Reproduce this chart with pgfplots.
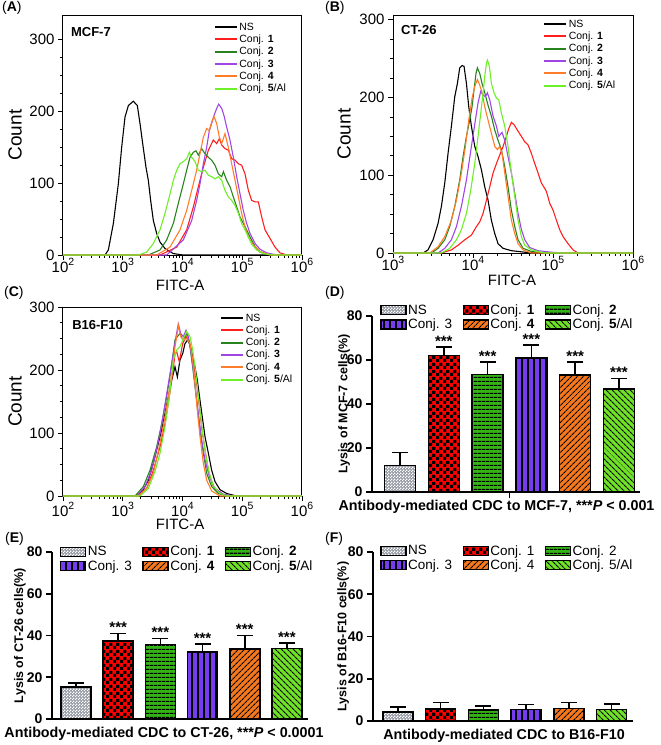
\documentclass[border=0pt]{standalone}
\usepackage{pgfplots}
\pgfplotsset{compat=1.18}
\usepackage{fontspec}
\setmainfont{Liberation Sans}
\usetikzlibrary{patterns,patterns.meta}

\definecolor{hblack}{RGB}{0,0,0}
\definecolor{hred}{RGB}{255,30,30}
\definecolor{hdgreen}{RGB}{40,130,30}
\definecolor{hpurple}{RGB}{160,70,230}
\definecolor{horange}{RGB}{255,125,40}
\definecolor{hlgreen}{RGB}{110,240,40}

\definecolor{bgray}{RGB}{150,155,165}
\definecolor{bred}{RGB}{255,0,0}
\definecolor{bgreen}{RGB}{50,180,20}
\definecolor{bpurple}{RGB}{120,60,240}
\definecolor{borange}{RGB}{245,120,30}
\definecolor{blgreen}{RGB}{110,225,40}

\pgfdeclarepatternformonly{bigcheck}{\pgfpointorigin}{\pgfqpoint{6.6pt}{6.6pt}}{\pgfqpoint{6.6pt}{6.6pt}}{%
 \pgfpathrectangle{\pgfpointorigin}{\pgfqpoint{3.3pt}{3.3pt}}%
 \pgfpathrectangle{\pgfqpoint{3.3pt}{3.3pt}}{\pgfqpoint{3.3pt}{3.3pt}}%
 \pgfusepath{fill}}
\pgfdeclarepatternformonly{smallcheck}{\pgfpointorigin}{\pgfqpoint{3pt}{3pt}}{\pgfqpoint{3pt}{3pt}}{%
 \pgfpathrectangle{\pgfpointorigin}{\pgfqpoint{1.5pt}{1.5pt}}%
 \pgfpathrectangle{\pgfqpoint{1.5pt}{1.5pt}}{\pgfqpoint{1.5pt}{1.5pt}}%
 \pgfusepath{fill}}

\newcommand{\fs}[1]{\fontsize{#1}{#1}\selectfont}
\newcommand{\tp}[1]{10\raisebox{6.5pt}{\fontsize{10.5}{10.5}\selectfont #1}}

\pgfplotsset{
  hist/.style={
    scale only axis, ymin=0, clip=true,
    axis line style={line width=1pt},
    tick align=outside, xtick pos=bottom, ytick pos=left,
    major tick length=5pt, minor tick length=3pt,
    tick style={black, line width=0.9pt},
    minor tick style={black, line width=0.7pt},
    minor y tick num=3,
    ytick={0,100,200,300},
    xtick={2,3,4,5,6},
    xticklabels={{\tp{2}},{\tp{3}},{\tp{4}},{\tp{5}},{\tp{6}}},
    tick label style={font=\fs{15}},
    xticklabel style={anchor=base, yshift=-12pt},
    /pgf/number format/assume math mode=true,
    ylabel={Count}, xlabel={FITC-A},
    ylabel style={font=\fs{19}, at={(axis description cs:-0.2,0.5)}, anchor=center},
    xlabel style={font=\fs{15}, anchor=center, inner sep=0pt},
    legend cell align=left,
    legend style={draw=none, fill=none, font=\fs{10.5}, inner sep=0pt, nodes={inner sep=1.6pt}},
    legend image code/.code={\draw[##1, line width=2pt] (0pt,0pt) -- (22pt,0pt);},
    every axis plot/.append style={line width=1.1pt, mark=none, sharp plot},
  },
  bars/.style={
    scale only axis, ymin=0, ymax=80, ytick={0,20,40,60,80},
    axis x line*=bottom, axis y line*=left,
    axis line style={-, line width=1.6pt},
    tick align=outside, major tick length=6pt,
    tick style={black, line width=1.6pt},
    xtick=\empty,
    tick label style={font=\bfseries\fs{14}},
    /pgf/number format/assume math mode=true,
    ylabel style={font=\bfseries\fs{12.5}, anchor=center},
    xlabel style={font=\bfseries\fs{14.3}, anchor=center},
    legend columns=3, legend cell align=left,
    legend style={draw=none, fill=none, font=\fs{13.5}, inner sep=0pt, nodes={inner sep=1.5pt},
       /tikz/every even column/.append style={column sep=9pt}},
    legend image code/.code={\draw[##1, line width=1.3pt] (0pt,-4.5pt) rectangle (25pt,4.5pt);},
    clip=false,
  },
  barplot/.style={ybar, bar width=31pt, bar shift=0pt, draw=black, line width=1.6pt,
     error bars/y dir=plus, error bars/y explicit,
     error bars/error bar style={line width=1.6pt, black},
     error bars/error mark options={rotate=90, mark size=8pt, line width=1.6pt, black}},
  pNS/.style={fill=bgray, postaction={pattern=smallcheck, pattern color=white}},
  pC1/.style={fill=bred, postaction={pattern=bigcheck, pattern color=black}},
  pC2/.style={fill=bgreen, postaction={pattern={Lines[angle=0,distance=4pt,line width=1.2pt]}, pattern color=black}},
  pC3/.style={fill=bpurple, postaction={pattern={Lines[angle=90,distance=6pt,line width=1.3pt]}, pattern color=black}},
  pC4/.style={fill=borange, postaction={pattern={Lines[angle=45,distance=4pt,line width=1.1pt]}, pattern color=black}},
  pC5/.style={fill=blgreen, postaction={pattern={Lines[angle=-45,distance=4pt,line width=1.1pt]}, pattern color=black}},
}

\begin{document}
\begin{tikzpicture}[x=1pt,y=1pt]
\useasboundingbox (0,0) rectangle (661,-745);

% ---------------- (A) ----------------
\begin{axis}[hist, at={(63pt,-255pt)}, anchor=south west, width=239pt, height=240pt,
  xmin=2, xmax=6, ymax=334,
  minor xtick={2.301,2.477,2.602,2.699,2.778,2.845,2.903,2.954,3.301,3.477,3.602,3.699,3.778,3.845,3.903,3.954,4.301,4.477,4.602,4.699,4.778,4.845,4.903,4.954,5.301,5.477,5.602,5.699,5.778,5.845,5.903,5.954},
  xlabel style={at={(axis description cs:0.49,-0.125)}},
  legend style={at={(0.63,0.975)}, anchor=north west}]
\addplot[hblack] coordinates {(2,0) (2.703,0) (2.759,7) (2.843,44) (2.926,99) (2.982,150) (3.038,192) (3.094,208) (3.177,214) (3.244,208) (3.289,183) (3.334,155) (3.389,122) (3.428,104) (3.467,76) (3.512,48) (3.568,30) (3.624,18) (3.707,9) (3.847,2) (4.014,0) (6,0)};
\addlegendentry{NS}
\addplot[hred] coordinates {(2,0) (3.624,0) (3.903,11) (4.070,35) (4.182,67) (4.265,95) (4.349,122) (4.433,146) (4.516,160) (4.572,155) (4.617,162) (4.656,153) (4.711,148) (4.767,146) (4.823,134) (4.879,132) (4.935,127) (4.990,125) (5.046,113) (5.102,90) (5.158,76) (5.214,74) (5.269,74) (5.325,53) (5.381,35) (5.465,23) (5.548,11) (5.632,3) (5.744,0) (6,0)};
\addlegendentry{Conj. \textbf{1}}
\addplot[hdgreen] coordinates {(2,0) (3.428,0) (3.624,7) (3.735,21) (3.847,44) (3.930,72) (4.014,99) (4.070,118) (4.126,136) (4.182,143) (4.226,145) (4.265,139) (4.321,148) (4.377,141) (4.433,136) (4.488,132) (4.544,125) (4.600,113) (4.656,109) (4.684,116) (4.739,104) (4.795,95) (4.851,81) (4.907,67) (4.963,53) (5.018,44) (5.074,35) (5.130,25) (5.214,12) (5.297,4) (5.465,0) (6,0)};
\addlegendentry{Conj. \textbf{2}}
\addplot[hpurple] coordinates {(2,0) (3.735,0) (4.014,21) (4.154,48) (4.237,76) (4.293,99) (4.349,127) (4.405,150) (4.449,173) (4.488,183) (4.527,194) (4.572,204) (4.606,210) (4.656,204) (4.695,194) (4.739,178) (4.795,160) (4.851,136) (4.907,109) (4.963,85) (5.018,62) (5.074,44) (5.130,30) (5.214,16) (5.297,8) (5.409,3) (5.576,0) (6,0)};
\addlegendentry{Conj. \textbf{3}}
\addplot[horange] coordinates {(2,0) (3.568,0) (3.791,11) (3.958,35) (4.070,62) (4.154,90) (4.237,118) (4.293,141) (4.349,164) (4.405,176) (4.449,173) (4.488,185) (4.527,193) (4.572,183) (4.617,164) (4.656,155) (4.711,169) (4.767,150) (4.823,127) (4.879,104) (4.935,81) (4.990,58) (5.046,39) (5.102,25) (5.186,14) (5.297,5) (5.465,0) (6,0)};
\addlegendentry{Conj. \textbf{4}}
\addplot[hlgreen] coordinates {(2,0) (3.261,0) (3.400,4) (3.512,16) (3.624,35) (3.707,58) (3.791,85) (3.847,104) (3.903,118) (3.958,127) (4.014,130) (4.070,134) (4.115,143) (4.154,136) (4.209,130) (4.265,118) (4.321,116) (4.377,118) (4.433,111) (4.488,109) (4.544,106) (4.600,109) (4.656,104) (4.711,90) (4.767,81) (4.823,76) (4.879,69) (4.935,58) (4.990,44) (5.046,35) (5.102,25) (5.158,15) (5.241,7) (5.353,2) (5.520,0) (6,0)};
\addlegendentry{Conj. \textbf{5}/Al}
\node[anchor=west, font=\bfseries\fs{13}, inner sep=0pt] at (rel axis cs:0.033,0.929) {MCF-7};
\end{axis}

% ---------------- (B) ----------------
\begin{axis}[hist, at={(393pt,-253pt)}, anchor=south west, width=240pt, height=238pt,
  xmin=3, xmax=6, ymax=306,
  xtick={3,4,5,6},
  xticklabels={{\tp{3}},{\tp{4}},{\tp{5}},{\tp{6}}},
  minor xtick={3.301,3.477,3.602,3.699,3.778,3.845,3.903,3.954,4.301,4.477,4.602,4.699,4.778,4.845,4.903,4.954,5.301,5.477,5.602,5.699,5.778,5.845,5.903,5.954},
  ylabel style={at={(axis description cs:-0.204,0.5)}},
  xlabel style={at={(axis description cs:0.496,-0.113)}},
  legend style={at={(0.625,0.987)}, anchor=north west}]
\addplot[hblack] coordinates {(3,0) (3.376,0) (3.438,4) (3.501,17) (3.563,38) (3.605,60) (3.647,90) (3.688,128) (3.730,163) (3.772,201) (3.805,218) (3.834,238) (3.863,241) (3.888,240) (3.918,218) (3.947,188) (3.980,163) (4.022,137) (4.063,124) (4.105,107) (4.147,85) (4.188,68) (4.230,42) (4.272,25) (4.313,12) (4.376,6) (4.480,3) (4.647,1) (4.855,0) (6,0)};
\addlegendentry{NS}
\addplot[hred] coordinates {(3,0) (3.605,0) (3.730,4) (3.813,10) (3.897,17) (3.980,23) (4.043,34) (4.084,40) (4.126,51) (4.168,68) (4.209,85) (4.251,103) (4.293,115) (4.334,126) (4.376,137) (4.418,150) (4.447,160) (4.480,168) (4.513,165) (4.555,158) (4.605,150) (4.647,143) (4.688,139) (4.730,128) (4.772,115) (4.813,103) (4.855,90) (4.897,83) (4.918,79) (4.959,64) (5.001,55) (5.043,42) (5.084,30) (5.126,21) (5.188,12) (5.251,4) (5.313,0) (6,0)};
\addlegendentry{Conj. \textbf{1}}
\addplot[hdgreen] coordinates {(3,0) (3.480,0) (3.563,6) (3.647,17) (3.709,34) (3.772,60) (3.834,94) (3.876,124) (3.918,150) (3.959,171) (3.988,188) (4.013,210) (4.038,231) (4.055,238) (4.084,231) (4.113,218) (4.147,206) (4.188,190) (4.230,176) (4.272,158) (4.313,145) (4.355,133) (4.397,111) (4.438,85) (4.480,55) (4.522,34) (4.563,17) (4.626,6) (4.730,2) (4.897,0) (6,0)};
\addlegendentry{Conj. \textbf{2}}
\addplot[hpurple] coordinates {(3,0) (3.563,0) (3.647,6) (3.730,17) (3.793,34) (3.855,60) (3.918,94) (3.980,137) (4.030,171) (4.063,193) (4.097,208) (4.126,203) (4.155,201) (4.180,206) (4.209,197) (4.251,176) (4.293,163) (4.322,150) (4.363,155) (4.397,145) (4.438,124) (4.480,103) (4.522,77) (4.563,51) (4.605,30) (4.647,17) (4.709,7) (4.813,3) (4.980,1) (5.147,0) (6,0)};
\addlegendentry{Conj. \textbf{3}}
\addplot[horange] coordinates {(3,0) (3.459,0) (3.563,8) (3.647,21) (3.730,42) (3.793,68) (3.855,103) (3.905,137) (3.947,171) (3.988,199) (4.022,214) (4.055,223) (4.084,216) (4.113,206) (4.147,188) (4.188,171) (4.230,154) (4.272,137) (4.305,133) (4.334,137) (4.363,128) (4.397,103) (4.438,73) (4.480,42) (4.522,25) (4.563,12) (4.626,4) (4.730,0) (6,0)};
\addlegendentry{Conj. \textbf{4}}
\addplot[hlgreen] coordinates {(3,0) (3.605,0) (3.709,6) (3.793,17) (3.855,30) (3.918,51) (3.972,81) (4.022,115) (4.063,150) (4.097,180) (4.126,206) (4.147,227) (4.168,244) (4.180,248) (4.205,240) (4.230,218) (4.263,206) (4.293,199) (4.322,197) (4.355,180) (4.397,163) (4.438,137) (4.480,103) (4.522,73) (4.563,42) (4.605,21) (4.647,10) (4.730,4) (4.897,0) (6,0)};
\addlegendentry{Conj. \textbf{5}/Al}
\node[anchor=west, font=\bfseries\fs{13}, inner sep=0pt] at (rel axis cs:0.033,0.937) {CT-26};
\end{axis}

% ---------------- (C) ----------------
\begin{axis}[hist, at={(63pt,-496pt)}, anchor=south west, width=239pt, height=189pt,
  xmin=2, xmax=6, ymax=300,
  xticklabel style={anchor=base, yshift=-3pt},
  minor xtick={2.301,2.477,2.602,2.699,2.778,2.845,2.903,2.954,3.301,3.477,3.602,3.699,3.778,3.845,3.903,3.954,4.301,4.477,4.602,4.699,4.778,4.845,4.903,4.954,5.301,5.477,5.602,5.699,5.778,5.845,5.903,5.954},
  xlabel style={at={(axis description cs:0.49,-0.152)}},
  legend style={at={(0.657,0.974)}, anchor=north west}]
\addplot[hblack] coordinates {(2,0) (3.233,0) (3.345,10) (3.428,25) (3.512,52) (3.596,84) (3.652,105) (3.707,131) (3.763,158) (3.819,184) (3.875,205) (3.914,189) (3.958,216) (4.003,226) (4.042,242) (4.087,248) (4.126,240) (4.170,221) (4.209,205) (4.248,184) (4.293,152) (4.338,121) (4.377,94) (4.433,68) (4.488,41) (4.544,23) (4.628,10) (4.739,4) (4.907,0) (6,0)};
\addlegendentry{NS}
\addplot[hred] coordinates {(2,0) (3.261,0) (3.400,12) (3.512,41) (3.624,78) (3.707,115) (3.780,158) (3.836,195) (3.875,226) (3.903,229) (3.947,213) (4.003,242) (4.059,253) (4.115,245) (4.154,226) (4.193,205) (4.237,179) (4.282,142) (4.327,105) (4.377,73) (4.433,41) (4.505,17) (4.600,5) (4.739,0) (6,0)};
\addlegendentry{Conj. \textbf{1}}
\addplot[hdgreen] coordinates {(2,0) (3.205,0) (3.345,15) (3.456,41) (3.568,78) (3.652,115) (3.724,152) (3.780,184) (3.836,221) (3.875,248) (3.914,253) (3.958,258) (4.003,248) (4.042,253) (4.081,258) (4.126,237) (4.170,205) (4.209,174) (4.248,142) (4.293,105) (4.349,68) (4.405,36) (4.488,15) (4.600,4) (4.739,0) (6,0)};
\addlegendentry{Conj. \textbf{2}}
\addplot[hpurple] coordinates {(2,0) (3.233,0) (3.373,15) (3.484,41) (3.557,70) (3.624,99) (3.691,136) (3.746,168) (3.802,200) (3.847,226) (3.891,253) (3.930,273) (3.970,258) (4.014,253) (4.059,263) (4.098,253) (4.137,232) (4.182,200) (4.226,163) (4.265,131) (4.321,89) (4.377,57) (4.449,31) (4.544,12) (4.684,3) (4.851,0) (6,0)};
\addlegendentry{Conj. \textbf{3}}
\addplot[horange] coordinates {(2,0) (3.261,0) (3.400,12) (3.512,36) (3.624,84) (3.707,126) (3.780,168) (3.836,205) (3.875,237) (3.903,253) (3.930,271) (3.970,253) (4.014,248) (4.070,250) (4.126,242) (4.170,216) (4.209,179) (4.248,136) (4.293,94) (4.349,52) (4.405,25) (4.488,8) (4.628,0) (6,0)};
\addlegendentry{Conj. \textbf{4}}
\addplot[hlgreen] coordinates {(2,0) (3.289,0) (3.428,12) (3.540,39) (3.624,68) (3.707,110) (3.780,158) (3.847,216) (3.903,232) (3.958,237) (4.014,250) (4.070,261) (4.126,253) (4.170,232) (4.209,205) (4.248,174) (4.293,136) (4.338,99) (4.394,62) (4.449,36) (4.516,16) (4.617,5) (4.739,0) (6,0)};
\addlegendentry{Conj. \textbf{5}/Al}
\node[anchor=west, font=\bfseries\fs{13}, inner sep=0pt] at (rel axis cs:0.038,0.905) {B16-F10};
\end{axis}

% ---------------- (D) ----------------
\begin{axis}[bars, at={(372pt,-492pt)}, anchor=south west, width=268pt, height=176pt,
  xmin=-0.64, xmax=5.48, xtick={2.5}, xticklabels={},
  ylabel={Lysis of MCF-7 cells(\%)},
  ylabel style={at={(axis description cs:-0.104,0.5)}},
  xlabel={Antibody-mediated CDC to MCF-7, ***\textit{P} < 0.001},
  xlabel style={at={(axis description cs:0.4646,-0.085)}},
  legend style={at={(0.03,1.075)}, anchor=north west}]
\addplot[barplot, pNS] coordinates {(0,12.0) +- (0,6.0)};
\addlegendentry{NS}
\addplot[barplot, pC1] coordinates {(1,62.0) +- (0,4.0)};
\addlegendentry{Conj. \textbf{1}}
\addplot[barplot, pC2] coordinates {(2,53.5) +- (0,5.5)};
\addlegendentry{Conj. \textbf{2}}
\addplot[barplot, pC3] coordinates {(3,61.0) +- (0,5.8)};
\addlegendentry{Conj. 3}
\addplot[barplot, pC4] coordinates {(4,53.2) +- (0,6.0)};
\addlegendentry{Conj. \textbf{4}}
\addplot[barplot, pC5] coordinates {(5,46.8) +- (0,4.8)};
\addlegendentry{Conj. \textbf{5}/Al}
\node[anchor=south, font=\bfseries\fs{15}, inner sep=0.5pt] at (axis cs:1,66.0) {***};
\node[anchor=south, font=\bfseries\fs{15}, inner sep=0.5pt] at (axis cs:2,59.0) {***};
\node[anchor=south, font=\bfseries\fs{15}, inner sep=0.5pt] at (axis cs:3,66.8) {***};
\node[anchor=south, font=\bfseries\fs{15}, inner sep=0.5pt] at (axis cs:4,59.2) {***};
\node[anchor=south, font=\bfseries\fs{15}, inner sep=0.5pt] at (axis cs:5,51.6) {***};
\end{axis}

% ---------------- (E) ----------------
\begin{axis}[bars, at={(52pt,-719pt)}, anchor=south west, width=256pt, height=167pt,
  xmin=-0.57, xmax=5.5,
  ylabel={Lysis of CT-26 cells(\%)},
  ylabel style={at={(axis description cs:-0.125,0.5)}},
  xlabel={Antibody-mediated CDC to CT-26, ***\textit{P} < 0.0001},
  xlabel style={at={(axis description cs:0.4375,-0.09)}},
  legend style={at={(0.031,1.045)}, anchor=north west}]
\addplot[barplot, bar width=30pt, pNS] coordinates {(0,15.3) +- (0,2.0)};
\addlegendentry{NS}
\addplot[barplot, bar width=30pt, pC1] coordinates {(1,37.5) +- (0,3.4)};
\addlegendentry{Conj. \textbf{1}}
\addplot[barplot, bar width=30pt, pC2] coordinates {(2,35.6) +- (0,3.0)};
\addlegendentry{Conj. \textbf{2}}
\addplot[barplot, bar width=30pt, pC3] coordinates {(3,32.1) +- (0,3.9)};
\addlegendentry{Conj. 3}
\addplot[barplot, bar width=30pt, pC4] coordinates {(4,33.5) +- (0,6.6)};
\addlegendentry{Conj. \textbf{4}}
\addplot[barplot, bar width=30pt, pC5] coordinates {(5,33.7) +- (0,2.7)};
\addlegendentry{Conj. \textbf{5}/Al}
\node[anchor=south, font=\bfseries\fs{15}, inner sep=0.5pt] at (axis cs:1,40.9) {***};
\node[anchor=south, font=\bfseries\fs{15}, inner sep=0.5pt] at (axis cs:2,38.6) {***};
\node[anchor=south, font=\bfseries\fs{15}, inner sep=0.5pt] at (axis cs:3,36.0) {***};
\node[anchor=south, font=\bfseries\fs{15}, inner sep=0.5pt] at (axis cs:4,40.1) {***};
\node[anchor=south, font=\bfseries\fs{15}, inner sep=0.5pt] at (axis cs:5,36.4) {***};
\end{axis}

% ---------------- (F) ----------------
\begin{axis}[bars, at={(373pt,-721pt)}, anchor=south west, width=260pt, height=169pt,
  xmin=-0.58, xmax=5.5,
  ylabel={Lysis of B16-F10 cells(\%)},
  ylabel style={at={(axis description cs:-0.115,0.5)}},
  xlabel={Antibody-mediated CDC to B16-F10},
  xlabel style={at={(axis description cs:0.504,-0.085)}},
  legend style={at={(0.027,1.05)}, anchor=north west}]
\addplot[barplot, bar width=30pt, pNS] coordinates {(0,4.4) +- (0,2.1)};
\addlegendentry{NS}
\addplot[barplot, bar width=30pt, pC1] coordinates {(1,5.7) +- (0,3.0)};
\addlegendentry{Conj. 1}
\addplot[barplot, bar width=30pt, pC2] coordinates {(2,5.2) +- (0,1.9)};
\addlegendentry{Conj. 2}
\addplot[barplot, bar width=30pt, pC3] coordinates {(3,5.5) +- (0,2.4)};
\addlegendentry{Conj. 3}
\addplot[barplot, bar width=30pt, pC4] coordinates {(4,6.0) +- (0,2.8)};
\addlegendentry{Conj. 4}
\addplot[barplot, bar width=30pt, pC5] coordinates {(5,5.5) +- (0,2.5)};
\addlegendentry{Conj. 5/Al}
\end{axis}

% panel labels
\node[anchor=north west, inner sep=0pt, font=\fs{14}] at (2,-1) {(\textbf{A})};
\node[anchor=north west, inner sep=0pt, font=\fs{14}] at (325,-1) {(\textbf{B})};
\node[anchor=north west, inner sep=0pt, font=\fs{14}] at (4,-286) {(\textbf{C})};
\node[anchor=north west, inner sep=0pt, font=\fs{14}] at (325,-286) {(\textbf{D})};
\node[anchor=north west, inner sep=0pt, font=\fs{14}] at (5,-532) {(\textbf{E})};
\node[anchor=north west, inner sep=0pt, font=\fs{14}] at (325,-532) {(\textbf{F})};
\end{tikzpicture}
\end{document}
